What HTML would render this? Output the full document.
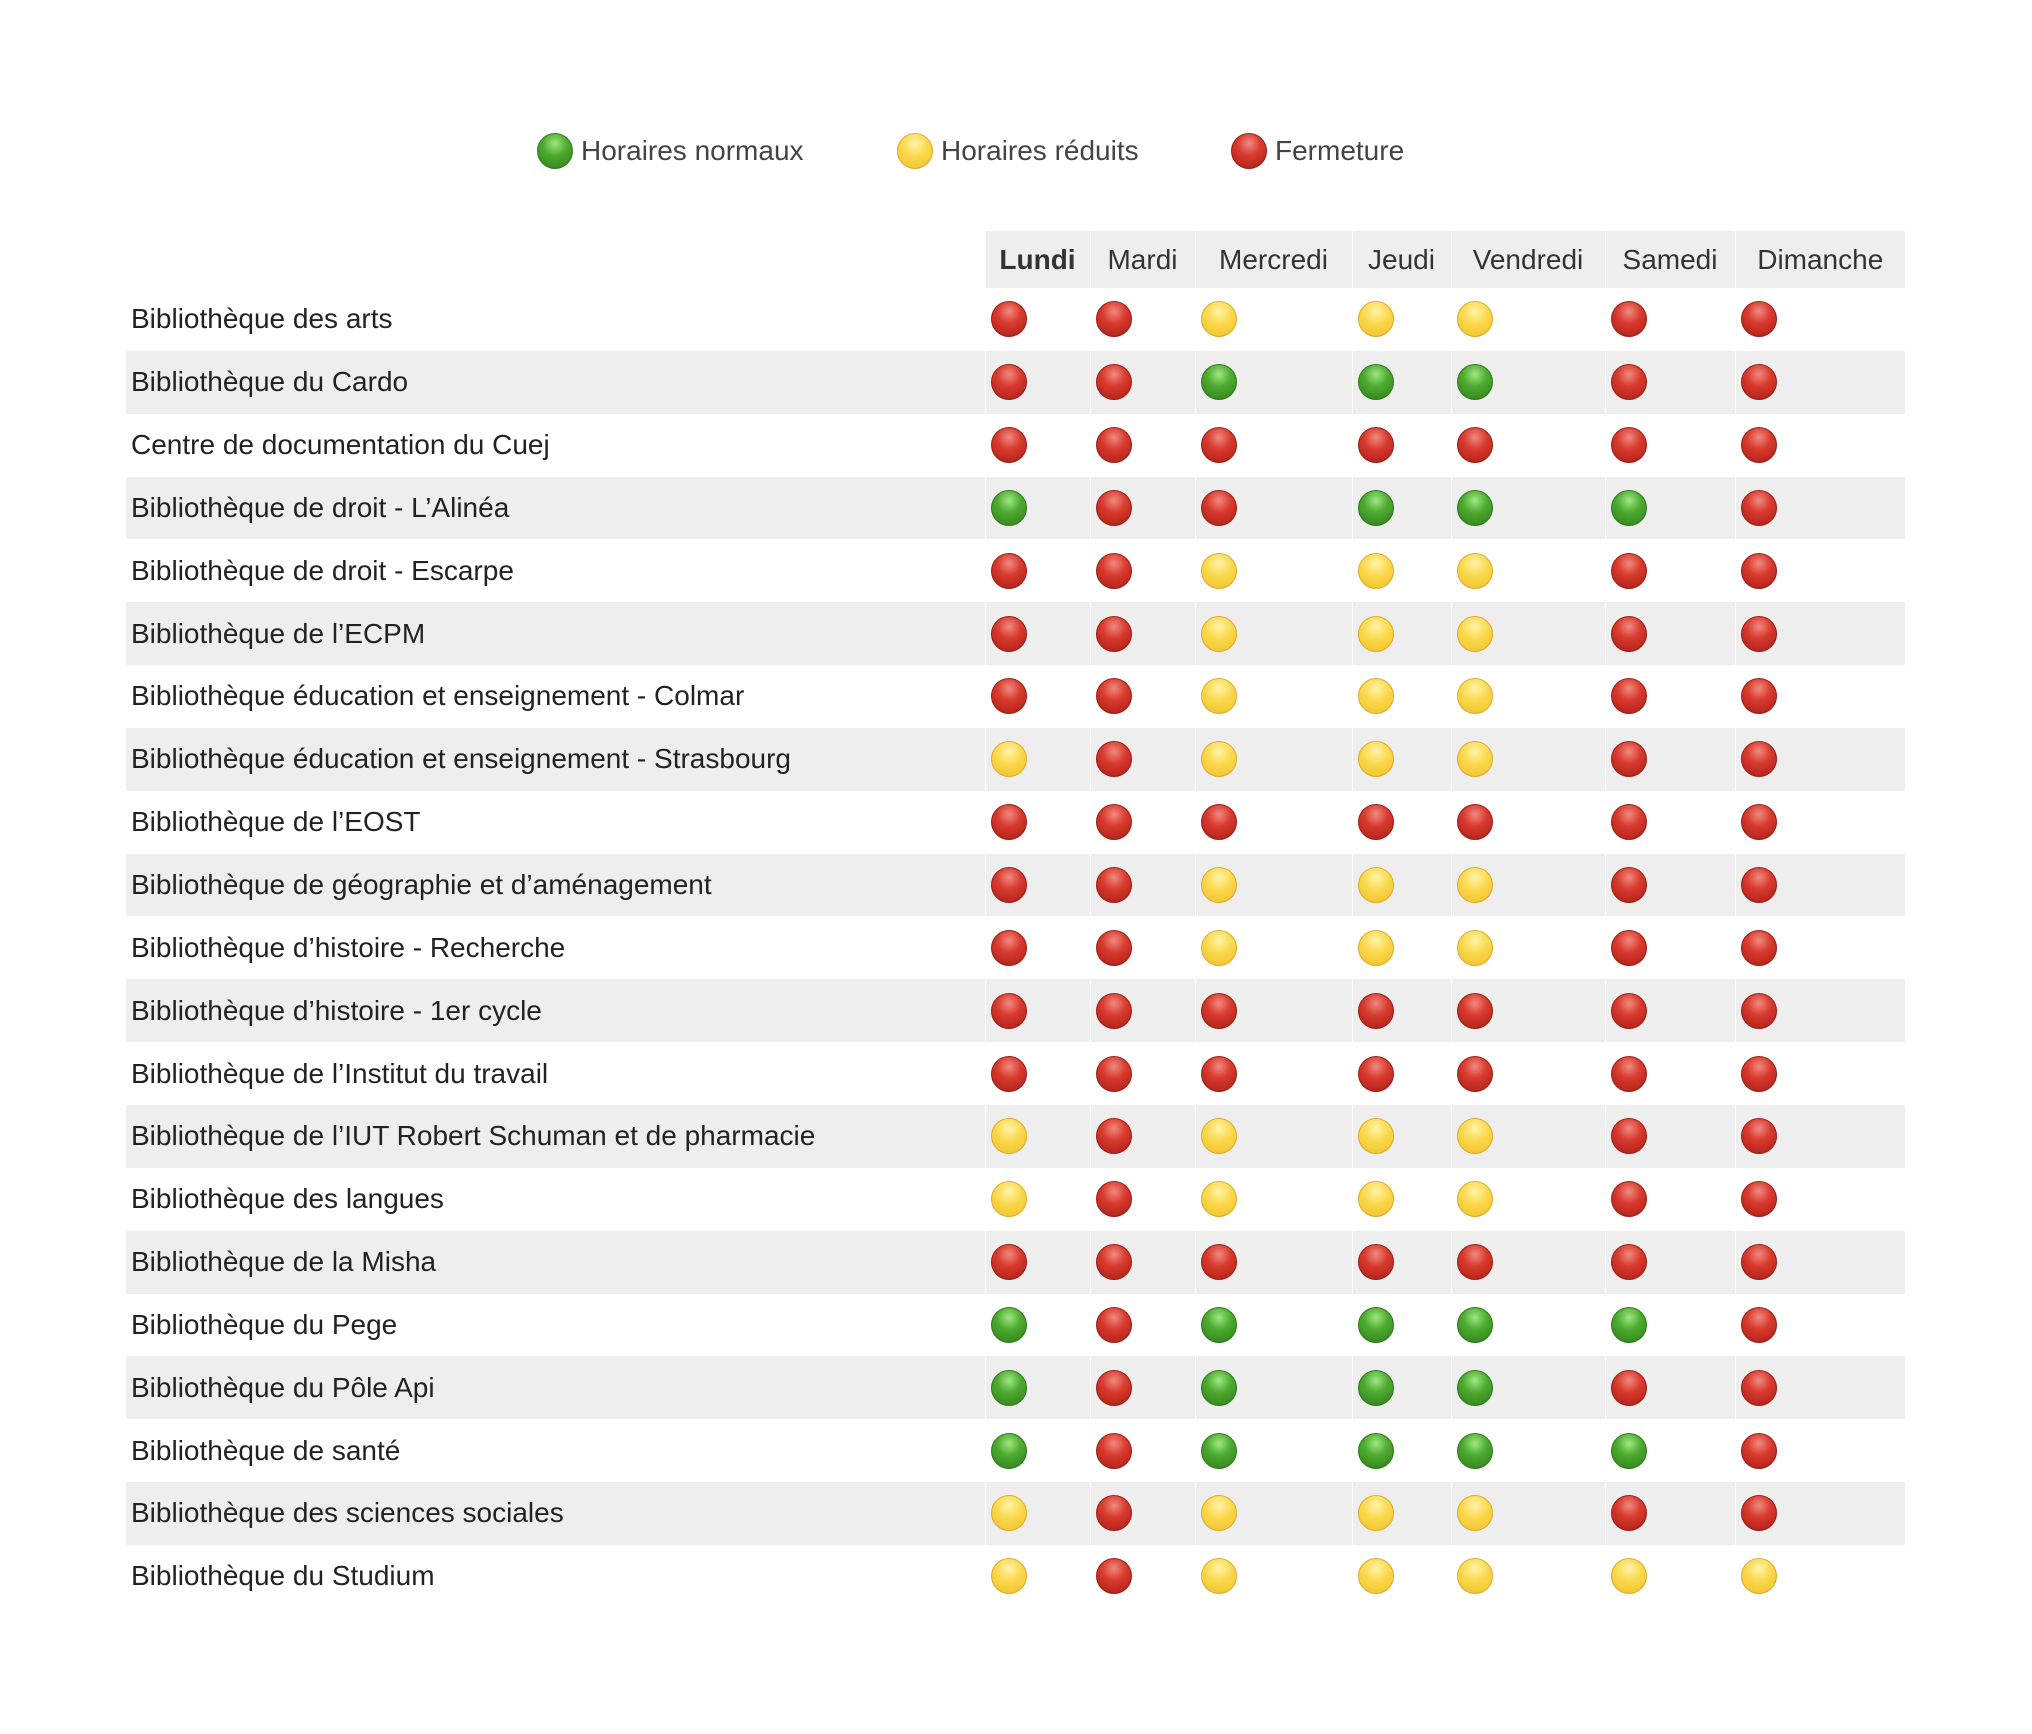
<!DOCTYPE html>
<html><head><meta charset="utf-8"><style>
body{margin:0;width:2032px;height:1734px;background:#fff;font-family:"Liberation Sans",sans-serif;overflow:hidden;position:relative}
.leg{position:absolute;top:129px;height:44px;font-size:28px;color:#444;display:flex;align-items:center}
.leg .d{margin-right:8px}
.d{display:inline-block;width:36px;height:36px;border-radius:50%;box-sizing:border-box;vertical-align:middle}
.R{background:radial-gradient(circle at 50% 28%,#f08a80 0,#d93a2e 40%,#a81d15 100%);border:1px solid #9b1e16}
.G{background:radial-gradient(circle at 50% 28%,#9ee882 0,#4eab30 40%,#2e7d1a 100%);border:1px solid #2f7a1c}
.Y{background:radial-gradient(circle at 50% 28%,#fff3a8 0,#fad84a 45%,#f0be2c 100%);border:1px solid #ddab2a}
table{position:absolute;left:126px;top:231px;border-collapse:collapse;table-layout:fixed;width:1779px}
th{background:#eee;font-weight:normal;font-size:28px;color:#333;height:57px;padding:0;text-align:center;border-left:1px solid #fff;line-height:1}
th.e{background:#fff;border:none}
td{height:62.85px;padding:0 0 0 5px;font-size:28px;line-height:1;color:#222;border-left:1px solid #fff;white-space:nowrap}
td:first-child{border-left:none}
tr:nth-child(even) td{background:#eee}
</style></head><body>
<div class="leg" style="left:537px"><span class="d G"></span>Horaires normaux</div>
<div class="leg" style="left:897px"><span class="d Y"></span>Horaires réduits</div>
<div class="leg" style="left:1231px"><span class="d R"></span>Fermeture</div>
<table>
<colgroup><col style="width:859px"><col style="width:105px"><col style="width:105px"><col style="width:157px"><col style="width:99px"><col style="width:154px"><col style="width:130px"><col style="width:170px"></colgroup>
<thead><tr><th class="e"></th><th style="font-weight:bold">Lundi</th><th>Mardi</th><th>Mercredi</th><th>Jeudi</th><th>Vendredi</th><th>Samedi</th><th>Dimanche</th></tr></thead>
<tbody>
<tr><td>Bibliothèque des arts</td><td><span class="d R"></span></td><td><span class="d R"></span></td><td><span class="d Y"></span></td><td><span class="d Y"></span></td><td><span class="d Y"></span></td><td><span class="d R"></span></td><td><span class="d R"></span></td></tr>
<tr><td>Bibliothèque du Cardo</td><td><span class="d R"></span></td><td><span class="d R"></span></td><td><span class="d G"></span></td><td><span class="d G"></span></td><td><span class="d G"></span></td><td><span class="d R"></span></td><td><span class="d R"></span></td></tr>
<tr><td>Centre de documentation du Cuej</td><td><span class="d R"></span></td><td><span class="d R"></span></td><td><span class="d R"></span></td><td><span class="d R"></span></td><td><span class="d R"></span></td><td><span class="d R"></span></td><td><span class="d R"></span></td></tr>
<tr><td>Bibliothèque de droit - L’Alinéa</td><td><span class="d G"></span></td><td><span class="d R"></span></td><td><span class="d R"></span></td><td><span class="d G"></span></td><td><span class="d G"></span></td><td><span class="d G"></span></td><td><span class="d R"></span></td></tr>
<tr><td>Bibliothèque de droit - Escarpe</td><td><span class="d R"></span></td><td><span class="d R"></span></td><td><span class="d Y"></span></td><td><span class="d Y"></span></td><td><span class="d Y"></span></td><td><span class="d R"></span></td><td><span class="d R"></span></td></tr>
<tr><td>Bibliothèque de l’ECPM</td><td><span class="d R"></span></td><td><span class="d R"></span></td><td><span class="d Y"></span></td><td><span class="d Y"></span></td><td><span class="d Y"></span></td><td><span class="d R"></span></td><td><span class="d R"></span></td></tr>
<tr><td>Bibliothèque éducation et enseignement - Colmar</td><td><span class="d R"></span></td><td><span class="d R"></span></td><td><span class="d Y"></span></td><td><span class="d Y"></span></td><td><span class="d Y"></span></td><td><span class="d R"></span></td><td><span class="d R"></span></td></tr>
<tr><td>Bibliothèque éducation et enseignement - Strasbourg</td><td><span class="d Y"></span></td><td><span class="d R"></span></td><td><span class="d Y"></span></td><td><span class="d Y"></span></td><td><span class="d Y"></span></td><td><span class="d R"></span></td><td><span class="d R"></span></td></tr>
<tr><td>Bibliothèque de l’EOST</td><td><span class="d R"></span></td><td><span class="d R"></span></td><td><span class="d R"></span></td><td><span class="d R"></span></td><td><span class="d R"></span></td><td><span class="d R"></span></td><td><span class="d R"></span></td></tr>
<tr><td>Bibliothèque de géographie et d’aménagement</td><td><span class="d R"></span></td><td><span class="d R"></span></td><td><span class="d Y"></span></td><td><span class="d Y"></span></td><td><span class="d Y"></span></td><td><span class="d R"></span></td><td><span class="d R"></span></td></tr>
<tr><td>Bibliothèque d’histoire - Recherche</td><td><span class="d R"></span></td><td><span class="d R"></span></td><td><span class="d Y"></span></td><td><span class="d Y"></span></td><td><span class="d Y"></span></td><td><span class="d R"></span></td><td><span class="d R"></span></td></tr>
<tr><td>Bibliothèque d’histoire - 1er cycle</td><td><span class="d R"></span></td><td><span class="d R"></span></td><td><span class="d R"></span></td><td><span class="d R"></span></td><td><span class="d R"></span></td><td><span class="d R"></span></td><td><span class="d R"></span></td></tr>
<tr><td>Bibliothèque de l’Institut du travail</td><td><span class="d R"></span></td><td><span class="d R"></span></td><td><span class="d R"></span></td><td><span class="d R"></span></td><td><span class="d R"></span></td><td><span class="d R"></span></td><td><span class="d R"></span></td></tr>
<tr><td>Bibliothèque de l’IUT Robert Schuman et de pharmacie</td><td><span class="d Y"></span></td><td><span class="d R"></span></td><td><span class="d Y"></span></td><td><span class="d Y"></span></td><td><span class="d Y"></span></td><td><span class="d R"></span></td><td><span class="d R"></span></td></tr>
<tr><td>Bibliothèque des langues</td><td><span class="d Y"></span></td><td><span class="d R"></span></td><td><span class="d Y"></span></td><td><span class="d Y"></span></td><td><span class="d Y"></span></td><td><span class="d R"></span></td><td><span class="d R"></span></td></tr>
<tr><td>Bibliothèque de la Misha</td><td><span class="d R"></span></td><td><span class="d R"></span></td><td><span class="d R"></span></td><td><span class="d R"></span></td><td><span class="d R"></span></td><td><span class="d R"></span></td><td><span class="d R"></span></td></tr>
<tr><td>Bibliothèque du Pege</td><td><span class="d G"></span></td><td><span class="d R"></span></td><td><span class="d G"></span></td><td><span class="d G"></span></td><td><span class="d G"></span></td><td><span class="d G"></span></td><td><span class="d R"></span></td></tr>
<tr><td>Bibliothèque du Pôle Api</td><td><span class="d G"></span></td><td><span class="d R"></span></td><td><span class="d G"></span></td><td><span class="d G"></span></td><td><span class="d G"></span></td><td><span class="d R"></span></td><td><span class="d R"></span></td></tr>
<tr><td>Bibliothèque de santé</td><td><span class="d G"></span></td><td><span class="d R"></span></td><td><span class="d G"></span></td><td><span class="d G"></span></td><td><span class="d G"></span></td><td><span class="d G"></span></td><td><span class="d R"></span></td></tr>
<tr><td>Bibliothèque des sciences sociales</td><td><span class="d Y"></span></td><td><span class="d R"></span></td><td><span class="d Y"></span></td><td><span class="d Y"></span></td><td><span class="d Y"></span></td><td><span class="d R"></span></td><td><span class="d R"></span></td></tr>
<tr><td>Bibliothèque du Studium</td><td><span class="d Y"></span></td><td><span class="d R"></span></td><td><span class="d Y"></span></td><td><span class="d Y"></span></td><td><span class="d Y"></span></td><td><span class="d Y"></span></td><td><span class="d Y"></span></td></tr>
</tbody></table>
</body></html>
